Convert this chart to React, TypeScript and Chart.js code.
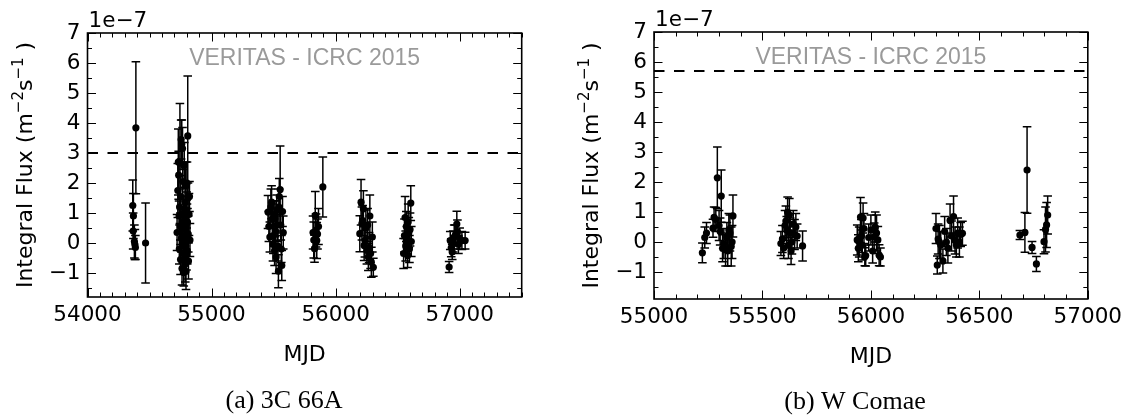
import React, { useEffect, useRef } from 'react';
import { Chart, registerables } from 'chart.js';

Chart.register(...registerables);

// ---------------- 3C 66A (flux in units of 1e-7 m^-2 s^-1) ----------------
const mjdA = [
  54365, 54368, 54370, 54378, 54382, 54386, 54390, 54468,
  54722, 54728, 54732, 54735, 54738, 54740, 54742, 54745, 54748, 54750, 54752,
  54755, 54757, 54760, 54762, 54764, 54766, 54768, 54770, 54772, 54774, 54776,
  54778, 54780, 54782, 54784, 54786, 54788, 54790, 54792, 54794, 54796, 54798,
  54800, 54802, 54804, 54806, 54808, 54810, 54812, 54814, 54818, 54822, 54826,
  55455, 55462, 55470, 55478, 55484, 55490, 55495, 55498, 55503, 55508, 55512,
  55516, 55520, 55525, 55530, 55535, 55539, 55543, 55546, 55553, 55558, 55562,
  55566, 55572, 55578,
  55818, 55824, 55830, 55836, 55842, 55848, 55854, 55862, 55897,
  56195, 56205, 56212, 56218, 56224, 56230, 56236, 56244, 56252, 56258, 56264,
  56270, 56276, 56282, 56288, 56296, 56304,
  56548, 56555, 56560, 56565, 56570, 56575, 56580, 56585, 56590, 56595, 56600,
  56606, 56610,
  56915, 56924, 56932, 56940, 56948, 56956, 56964, 56977, 56982, 56990, 57000,
  57018, 57044,
];
const fluxA = [
  1.25, 0.40, 0.90, 0.05, -0.05, -0.15, 3.84, 0.00,
  0.35, 1.75, 2.70, 2.26, 0.90, -0.20, 1.20, 2.65, 0.55, -0.55, 1.55,
  3.45, 0.15, 3.30, -0.85, 0.70, 3.15, 2.05, 0.00, -0.35, 1.00, -0.98,
  0.45, 2.60, -0.10, 0.85, 1.35, -0.70, 0.25, 1.90, -0.95, 0.60, -0.40,
  1.10, 2.00, -0.25, 0.70, 3.57, 1.50, 0.30, -0.60, 0.95, 1.55, 0.10,
  1.03, 0.55, 0.20, 1.20, 1.36, 0.80, -0.05, 0.25, 0.95, -0.25, 0.81,
  0.40, -0.47, 1.10, 0.60, -0.10, -0.94, 1.20, 1.55, 1.78, 0.60, -0.20,
  -0.75, 1.05, 0.35,
  0.35, 0.10, -0.19, 0.92, 0.42, 0.08, 0.30, 0.55, 1.87,
  0.31, 1.36, 0.65, 0.75, 1.14, -0.08, 0.08, 0.50, -0.25, 0.60, -0.47,
  -0.15, 0.90, -0.35, -0.64, 0.20, -0.81,
  -0.35, 0.25, 0.85, -0.10, 0.55, 0.10, -0.42, 0.70, 0.35, -0.20, 0.45,
  1.33, 0.05,
  -0.80, 0.08, -0.16, -0.30, 0.05, 0.20, 0.25, 0.63, 0.37, -0.05, 0.15,
  0.08, 0.08,
];
const errA = [
  0.85, 0.60, 0.75, 0.55, 0.50, 0.40, 2.20, 1.33,
  0.60, 0.90, 1.10, 0.80, 0.50, 0.50, 0.60, 2.00, 0.45, 0.50, 0.70,
  0.65, 0.45, 0.80, 0.55, 0.50, 0.70, 0.60, 0.50, 0.50, 0.55, 0.45,
  0.50, 0.75, 0.55, 0.60, 0.50, 0.60, 0.50, 0.80, 0.60, 0.55, 0.50,
  0.60, 0.70, 0.45, 0.45, 2.00, 0.50, 0.60, 0.60, 0.70, 0.50, 0.55,
  0.55, 0.50, 0.50, 0.60, 0.55, 0.50, 0.55, 0.60, 0.45, 0.50, 0.60,
  0.50, 0.55, 0.50, 0.55, 0.50, 0.55, 0.60, 0.60, 1.45, 0.50, 0.45,
  0.50, 0.50, 0.55,
  0.55, 0.60, 0.45, 0.80, 0.55, 0.60, 0.50, 0.60, 1.00,
  0.60, 0.76, 0.55, 0.50, 0.60, 0.50, 0.55, 0.60, 0.45, 0.55, 0.45,
  0.50, 0.70, 0.50, 0.50, 0.50, 0.30,
  0.50, 0.55, 0.70, 0.50, 0.50, 0.45, 0.40, 0.60, 0.50, 0.45, 0.55,
  0.58, 0.50,
  0.18, 0.30, 0.30, 0.25, 0.35, 0.40, 0.35, 0.43, 0.40, 0.30, 0.35,
  0.30, 0.28,
];
const thresholdA = 3.0;
const xTicksA = [54000, 55000, 56000, 57000];

// ---------------- W Comae ----------------
const mjdB = [
  55223, 55234, 55242, 55272, 55277, 55285, 55292, 55300, 55305, 55310, 55316,
  55322, 55330, 55336, 55340, 55345, 55350, 55356, 55360, 55364,
  55585, 55592, 55598, 55604, 55608, 55612, 55616, 55620, 55624, 55628, 55632,
  55636, 55642, 55648, 55654, 55660, 55685,
  55937, 55942, 55946, 55952, 55956, 55960, 55964, 55968, 55972, 55976, 55990,
  56000, 56008, 56015, 56020, 56026, 56032, 56038, 56044,
  56300, 56306, 56310, 56316, 56322, 56332, 56340, 56348, 56355, 56365, 56372,
  56381, 56388, 56394, 56400, 56408, 56414, 56422,
  56687, 56710, 56720, 56743, 56763, 56798, 56805, 56810, 56815,
];
const fluxB = [
  -0.36, 0.15, 0.30, 0.46, 0.82, 0.75, 2.14, 0.55, 0.35, 1.53, -0.21,
  -0.05, -0.25, 0.15, -0.30, 0.40, 0.30, -0.15, 0.00, 0.87,
  -0.05, 0.10, -0.20, 0.55, 0.70, 0.40, 1.00, -0.10, 0.90, 0.30, -0.30,
  0.00, 0.60, 0.25, 0.50, 0.20, -0.13,
  0.07, -0.21, 0.00, 0.83, 0.20, -0.10, 0.80, 0.45, -0.49, -0.45, 0.15,
  0.40, -0.30, 0.18, 0.50, 0.30, 0.07, -0.44, -0.50,
  0.45, -0.77, 0.10, 0.00, -0.10, -0.63, 0.35, 0.00, -0.20, 0.72, 0.20,
  0.85, 0.05, -0.10, 0.30, 0.00, 0.25, 0.29,
  0.23, 0.32, 2.40, -0.18, -0.73, 0.01, 0.42, 0.57, 0.90,
];
const errB = [
  0.33, 0.35, 0.35, 0.30, 0.35, 0.40, 1.03, 0.50, 0.45, 0.87, 0.45,
  0.50, 0.55, 0.50, 0.50, 0.55, 0.60, 0.65, 0.55, 0.70,
  0.40, 0.45, 0.35, 0.50, 0.50, 0.45, 0.50, 0.45, 0.55, 0.50, 0.45,
  0.40, 0.45, 0.50, 0.45, 0.40, 0.50,
  0.50, 0.45, 0.50, 0.65, 0.55, 0.50, 0.50, 0.50, 0.30, 0.35, 0.45,
  0.50, 0.40, 0.45, 0.50, 0.60, 0.45, 0.35, 0.30,
  0.50, 0.30, 0.50, 0.55, 0.45, 0.40, 0.50, 0.45, 0.50, 0.55, 0.50,
  0.68, 0.45, 0.40, 0.50, 0.50, 0.40, 0.40,
  0.15, 0.66, 1.44, 0.20, 0.25, 0.40, 0.75, 0.75, 0.63,
];
const thresholdB = 5.7;
const xTicksB = [55000, 55500, 56000, 56500, 57000];

const yTicks = [-1, 0, 1, 2, 3, 4, 5, 6, 7];

const TICK_FONT = "'DejaVu Sans', sans-serif";

type Panel = {
  mjd: number[];
  flux: number[];
  err: number[];
  threshold: number;
  xTicks: number[];
  xMin: number;
  xMax: number;
  yMin: number;
  yMax: number;
  xMinorStep: number;
  caption: string;
  yWidth: number;
  padRight: number;
  padTop: number;
  xHeight: number;
  yLabelX: number;
  captionX: number;
  captionY: number;
};

const panelA: Panel = {
  mjd: mjdA, flux: fluxA, err: errA, threshold: thresholdA, xTicks: xTicksA,
  xMin: 54000, xMax: 57500, yMin: -1.8, yMax: 7, xMinorStep: 100,
  caption: '(a) 3C 66A',
  yWidth: 87.5, padRight: 42.3, padTop: 33, xHeight: 120,
  yLabelX: 32, captionX: 284, captionY: 408,
};

const panelB: Panel = {
  mjd: mjdB, flux: fluxB, err: errB, threshold: thresholdB, xTicks: xTicksB,
  xMin: 55000, xMax: 57000, yMin: -1.9, yMax: 7, xMinorStep: 100,
  caption: '(b) W Comae',
  yWidth: 90, padRight: 38, padTop: 32, xHeight: 118,
  yLabelX: 33.5, captionX: 291, captionY: 409,
};

function makePlugins(p: Panel) {
  const errorBars = {
    id: 'errorBars',
    beforeDatasetsDraw(chart: any) {
      const { ctx, chartArea, scales } = chart;
      const x = scales.x, y = scales.y;
      ctx.save();
      ctx.beginPath();
      ctx.rect(chartArea.left, chartArea.top, chartArea.right - chartArea.left, chartArea.bottom - chartArea.top);
      ctx.clip();
      ctx.strokeStyle = '#000';
      ctx.lineWidth = 1.5;
      const cap = 4.3;
      for (let i = 0; i < p.mjd.length; i++) {
        const px = x.getPixelForValue(p.mjd[i]);
        const y1 = y.getPixelForValue(p.flux[i] - p.err[i]);
        const y2 = y.getPixelForValue(p.flux[i] + p.err[i]);
        ctx.beginPath();
        ctx.moveTo(px, y1);
        ctx.lineTo(px, y2);
        ctx.moveTo(px - cap, y1);
        ctx.lineTo(px + cap, y1);
        ctx.moveTo(px - cap, y2);
        ctx.lineTo(px + cap, y2);
        ctx.stroke();
      }
      ctx.restore();
    },
  };

  const decor = {
    id: 'decor',
    afterDraw(chart: any) {
      const { ctx, chartArea, scales } = chart;
      const { left, right, top, bottom } = chartArea;
      const x = scales.x, y = scales.y;
      ctx.save();
      ctx.strokeStyle = '#000';
      ctx.lineWidth = 1;
      const majorLen = 8.5, minorLen = 4.5;
      // x ticks (top & bottom)
      const majorSet = new Set(p.xTicks);
      for (let v = p.xMin; v <= p.xMax + 1e-6; v += p.xMinorStep) {
        const isMajor = majorSet.has(v);
        const len = isMajor ? majorLen : minorLen;
        const px = Math.round(x.getPixelForValue(v)) + 0.5;
        ctx.beginPath();
        ctx.moveTo(px, bottom);
        ctx.lineTo(px, bottom - len);
        ctx.moveTo(px, top);
        ctx.lineTo(px, top + len);
        ctx.stroke();
      }
      // y ticks (left & right)
      for (let k = Math.ceil(p.yMin * 2); k <= Math.floor(p.yMax * 2); k++) {
        const v = k / 2;
        const isMajor = k % 2 === 0;
        const len = isMajor ? majorLen : minorLen;
        const py = Math.round(y.getPixelForValue(v)) + 0.5;
        ctx.beginPath();
        ctx.moveTo(left, py);
        ctx.lineTo(left + len, py);
        ctx.moveTo(right, py);
        ctx.lineTo(right - len, py);
        ctx.stroke();
      }
      // frame
      ctx.lineWidth = 1.6;
      ctx.strokeRect(left, top, right - left, bottom - top);

      // offset text
      ctx.fillStyle = '#000';
      ctx.textAlign = 'left';
      ctx.textBaseline = 'alphabetic';
      ctx.font = `21.5px ${TICK_FONT}`;
      ctx.fillText('1e\u22127', left + 1, top - 6);

      // watermark
      ctx.fillStyle = '#9a9a9a';
      ctx.textAlign = 'center';
      ctx.font = `23px 'Liberation Sans', Arial, sans-serif`;
      ctx.fillText('VERITAS - ICRC 2015', (left + right) / 2, top + 31.5);

      // x title
      ctx.fillStyle = '#000';
      ctx.font = `22px ${TICK_FONT}`;
      ctx.fillText('MJD', (left + right) / 2, bottom + 64);

      // y title with superscripts
      const parts = [
        { t: 'Integral Flux (m', s: 22, r: 0 },
        { t: '\u22122', s: 15, r: 9 },
        { t: 's', s: 22, r: 0 },
        { t: '\u22121', s: 15, r: 9 },
        { t: ' )', s: 22, r: 0 },
      ];
      let total = 0;
      const widths: number[] = [];
      for (const part of parts) {
        ctx.font = `${part.s}px ${TICK_FONT}`;
        const w = ctx.measureText(part.t).width;
        widths.push(w);
        total += w;
      }
      ctx.save();
      ctx.translate(p.yLabelX, (top + bottom) / 2);
      ctx.rotate(-Math.PI / 2);
      ctx.textAlign = 'left';
      let cx = -total / 2;
      parts.forEach((part, i) => {
        ctx.font = `${part.s}px ${TICK_FONT}`;
        ctx.fillText(part.t, cx, -part.r);
        cx += widths[i];
      });
      ctx.restore();

      // caption
      ctx.textAlign = 'center';
      ctx.font = `26px 'Liberation Serif', 'Times New Roman', serif`;
      ctx.fillText(p.caption, p.captionX, p.captionY);
      ctx.restore();
    },
  };
  return [errorBars, decor];
}

function fmt(v: number) {
  return v < 0 ? '\u2212' + String(-v) : String(v);
}

function PanelChart({ p, offset }: { p: Panel; offset: number }) {
  const ref = useRef<HTMLCanvasElement | null>(null);
  useEffect(() => {
    if (!ref.current) return;
    const points = p.mjd.map((m, i) => ({ x: m, y: p.flux[i] }));
    const chart = new Chart(ref.current, {
      type: 'scatter',
      data: {
        datasets: [
          {
            label: 'flux',
            data: points,
            pointRadius: 3.6,
            pointBorderWidth: 0,
            backgroundColor: '#000',
            borderColor: '#000',
            showLine: false,
          } as any,
          {
            label: 'threshold',
            type: 'line',
            data: [
              { x: p.xMin, y: p.threshold },
              { x: p.xMax, y: p.threshold },
            ],
            borderColor: '#000',
            borderWidth: 2,
            borderDash: [10.5, 9.5],
            pointRadius: 0,
            showLine: true,
            fill: false,
          } as any,
        ],
      },
      options: {
        animation: false,
        responsive: false,
        devicePixelRatio: 1,
        layout: { padding: { left: 0, right: p.padRight, top: p.padTop, bottom: 0 } },
        plugins: { legend: { display: false }, tooltip: { enabled: false } },
        scales: {
          x: {
            type: 'linear',
            min: p.xMin,
            max: p.xMax,
            grid: { display: false, drawTicks: false },
            border: { display: false },
            afterBuildTicks: (s: any) => {
              s.ticks = p.xTicks.map((v) => ({ value: v }));
            },
            afterFit: (s: any) => {
              s.height = p.xHeight;
            },
            ticks: {
              padding: 6,
              color: '#000',
              font: { family: TICK_FONT, size: 21.5 },
              maxRotation: 0,
              autoSkip: false,
              callback: (v: any) => String(v),
            },
          },
          y: {
            type: 'linear',
            min: p.yMin,
            max: p.yMax,
            grid: { display: false, drawTicks: false },
            border: { display: false },
            afterBuildTicks: (s: any) => {
              s.ticks = yTicks.map((v) => ({ value: v }));
            },
            afterFit: (s: any) => {
              s.width = p.yWidth;
            },
            ticks: {
              padding: 7,
              color: '#000',
              font: { family: TICK_FONT, size: 21.5 },
              autoSkip: false,
              callback: (v: any) => fmt(Number(v)),
            },
          },
        },
      } as any,
      plugins: makePlugins(p) as any,
    });
    return () => chart.destroy();
  }, [p]);
  return (
    <canvas
      ref={ref}
      width={564}
      height={417}
      style={{ position: 'absolute', left: offset, top: 0, width: 564, height: 417 }}
    />
  );
}

export default function App() {
  return (
    <div style={{ position: 'absolute', left: 0, top: 0, width: 1128, height: 417, background: '#fff' }}>
      <PanelChart p={panelA} offset={0} />
      <PanelChart p={panelB} offset={564} />
    </div>
  );
}
